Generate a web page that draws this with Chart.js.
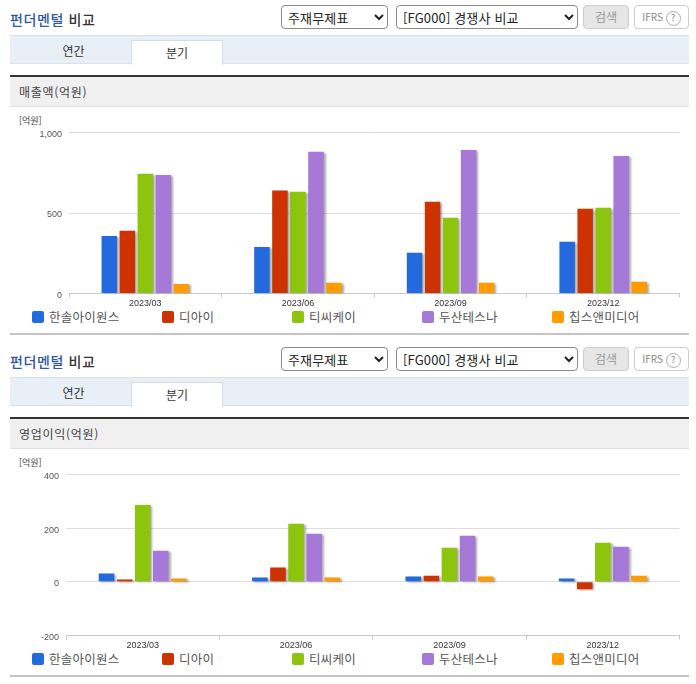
<!DOCTYPE html>
<html lang="ko"><head><meta charset="utf-8">
<script src="https://cdn.jsdelivr.net/npm/chart.js@4/dist/chart.umd.js"></script>
<style>
html,body{margin:0;padding:0;background:#fff;overflow:hidden}
body{width:696px;height:684px;position:relative;font-family:"Noto Sans CJK KR","Noto Sans",sans-serif}
.a{position:absolute;white-space:nowrap}
.ttl{left:10px;font-size:14px;font-weight:500;color:#333;line-height:18px;letter-spacing:.6px}
.ttl b{font-weight:500;color:#2d57a6}
select{position:absolute;height:24px;font:13px "Noto Sans CJK KR",sans-serif;letter-spacing:.15px;color:#222;background:#fff;border:1px solid #8a8a8a;border-radius:4px;padding:0 2px}
.btn{border:1px solid #ccc;border-radius:4px;box-sizing:border-box;text-align:center;font-size:12px;line-height:22px;height:24px}
.tabs{left:10px;width:679px;height:29px;background:#e8eff7;border:1px solid #d8e0e8;border-width:1px 0;box-sizing:border-box}
.tab{box-sizing:border-box;font-size:12px;line-height:24px;text-align:center;color:#333;height:25px}
.on{background:#fff;border:1px solid #d5dde5;border-bottom:0}
.bar{left:10px;width:679px;height:2px;background:#333}
.hd{left:10px;width:679px;height:30px;background:#f0f0f0;border-bottom:1px solid #e0e0e0;box-sizing:border-box;font-size:12px;line-height:29px;color:#444;padding-left:9px;letter-spacing:.7px}
.rule{left:10px;width:679px;height:2px;background:#c4c4c4}
.unit{left:19px;font-size:9px;color:#444;line-height:12px}
.sw{width:12px;height:12px;border-radius:2px}
.lg{font-size:12.5px;color:#555;line-height:16px;letter-spacing:.25px}
canvas{position:absolute}
</style></head><body>
<script>
const quarters = ["2023/03","2023/06","2023/09","2023/12"];
const companies = ["한솔아이원스","디아이","티씨케이","두산테스나","칩스앤미디어"];
const colors = ["#2469de","#cc3300","#8cc40e","#a678d8","#ff9c00"];
const revenueTicks = [0,500,1000];
const profitTicks = [-200,0,200,400];
const revHansol = [357,289,253,322];
const revDI = [390,639,570,527];
const revTCK = [744,632,471,533];
const revTesna = [736,881,891,854];
const revChips = [59,67,67,73];
const opHansol = [31,16,20,12];
const opDI = [9,53,23,-28];
const opTCK = [286,216,127,146];
const opTesna = [116,179,172,131];
const opChips = [12,16,20,23];

function el(cls,css,html,tag){const d=document.createElement(tag||'div');d.className=cls;d.style.cssText=css;if(html!=null)d.innerHTML=html;document.body.appendChild(d);return d;}
const shadow={id:'shadow',
 beforeDatasetDraw(c){const x=c.ctx;x.save();x.shadowColor='rgba(90,90,90,.5)';x.shadowOffsetX=2;x.shadowOffsetY=1;x.shadowBlur=2;},
 afterDatasetDraw(c){c.ctx.restore();}};

function section(dy,head,series,ticks,min,max,left,legendY,canvasTop,areaTop,areaBottom,unitY){
 el('a ttl',`top:${10+dy}px`,'<b>펀더멘털</b> 비교');
 el('','left:281px;top:'+(5+dy)+'px;width:107px','<option>주재무제표</option>','select');
 el('','left:396px;top:'+(5+dy)+'px;width:182px','<option>[FG000] 경쟁사 비교</option>','select');
 el('a btn',`left:583px;top:${5+dy}px;width:46px;background:#e6e6e6;color:#999`,'검색');
 el('a btn',`left:634px;top:${5+dy}px;width:55px;background:#fff;color:#888;font-size:10px`,'IFRS <span style="display:inline-block;width:13px;height:13px;border:1px solid #aaa;border-radius:50%;line-height:12px;font-size:9px">?</span>');
 el('a tabs',`top:${35+dy}px`);
 el('a tab',`left:10px;top:${39+dy}px;width:127px`,'연간');
 el('a tab on',`left:131px;top:${40+dy}px;width:92px`,'분기');
 el('a bar',`top:${75+dy}px`);
 el('a hd',`top:${77+dy}px`,head);
 el('a unit',`top:${unitY}px`,'[억원]');
 companies.forEach((n,i)=>{
  el('a sw',`left:${32+130*i}px;top:${legendY}px;background:${colors[i]}`);
  el('a lg',`left:${49+130*i}px;top:${legendY-2}px`,n);
 });
 el('a rule',`top:${333+dy}px`);
 const H=204, W=680;
 const wrap=el('a',`left:10px;top:${canvasTop}px;width:${W}px;height:${H}px`);
 const cv=document.createElement('canvas');cv.style.left='0';cv.style.top='0';wrap.appendChild(cv);
 new Chart(cv,{type:'bar',plugins:[shadow],
  data:{labels:quarters,datasets:series.map((d,i)=>({label:companies[i],data:d,backgroundColor:colors[i],barPercentage:.86,categoryPercentage:.59}))},
  options:{responsive:true,maintainAspectRatio:false,animation:false,
   layout:{padding:{top:areaTop-canvasTop,right:10.5,left:0,bottom:0}},
   plugins:{legend:{display:false},tooltip:{enabled:false}},
   scales:{
    x:{afterFit:s=>{s.height=H-(areaBottom-canvasTop)},
       grid:{drawOnChartArea:false,drawTicks:true,tickLength:4,color:'#c3cad4'},
       border:{color:'#c3cad4'},
       ticks:{color:'#333',font:{size:9,family:'"Liberation Sans",Arial,sans-serif'},padding:1,maxRotation:0}},
    y:{min,max,
       afterFit:s=>{s.width=left-10;
         const base=s._computeLabelItems;
         s._computeLabelItems=function(a){return base.call(this,a).map(i=>{i.options.translation=[i.options.translation[0],i.options.translation[1]+1];return i;});};},
       afterBuildTicks:s=>{s.ticks=ticks.map(v=>({value:v}))},
       grid:{color:'#dcdcdc',drawTicks:false},border:{display:false},
       ticks:{color:'#555',padding:7,font:{size:9,family:'"Liberation Sans",Arial,sans-serif'},callback:v=>v.toLocaleString('en-US')}}
   }}});
}
section(0,'매출액(억원)',[revHansol,revDI,revTCK,revTesna,revChips],revenueTicks,0,1000,69,311,108,132.5,293.5,115);
section(342,'영업이익(억원)',[opHansol,opDI,opTCK,opTesna,opChips],profitTicks,-200,400,66,653,450,474.5,635.5,457);
</script>
</body></html>
